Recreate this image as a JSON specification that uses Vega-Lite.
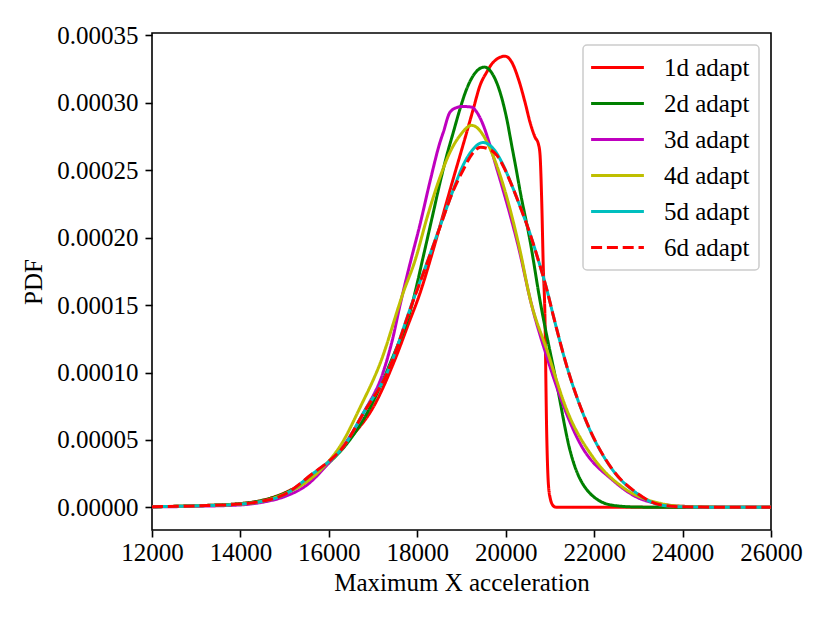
{
  "$schema": "https://vega.github.io/schema/vega-lite/v6.json",
  "width": 619,
  "height": 497,
  "autosize": "none",
  "padding": {"left": 152, "top": 33, "right": 59, "bottom": 93},
  "background": "white",
  "data": {
    "values": [
      {"s": "1d adapt", "x": 12000, "y": 0.0000004},
      {"s": "1d adapt", "x": 13000, "y": 0.0000012},
      {"s": "1d adapt", "x": 14000, "y": 0.0000028},
      {"s": "1d adapt", "x": 14500, "y": 0.0000053},
      {"s": "1d adapt", "x": 15000, "y": 0.0000108},
      {"s": "1d adapt", "x": 15500, "y": 0.0000200},
      {"s": "1d adapt", "x": 16000, "y": 0.0000340},
      {"s": "1d adapt", "x": 16500, "y": 0.0000520},
      {"s": "1d adapt", "x": 17000, "y": 0.0000740},
      {"s": "1d adapt", "x": 17500, "y": 0.0001100},
      {"s": "1d adapt", "x": 17800, "y": 0.0001360},
      {"s": "1d adapt", "x": 18063, "y": 0.0001590},
      {"s": "1d adapt", "x": 18357, "y": 0.0001906},
      {"s": "1d adapt", "x": 18674, "y": 0.0002276},
      {"s": "1d adapt", "x": 18816, "y": 0.0002440},
      {"s": "1d adapt", "x": 18967, "y": 0.0002610},
      {"s": "1d adapt", "x": 19119, "y": 0.0002783},
      {"s": "1d adapt", "x": 19268, "y": 0.0002956},
      {"s": "1d adapt", "x": 19419, "y": 0.0003129},
      {"s": "1d adapt", "x": 19571, "y": 0.0003228},
      {"s": "1d adapt", "x": 19720, "y": 0.0003302},
      {"s": "1d adapt", "x": 19984, "y": 0.0003346},
      {"s": "1d adapt", "x": 20136, "y": 0.0003302},
      {"s": "1d adapt", "x": 20285, "y": 0.0003179},
      {"s": "1d adapt", "x": 20436, "y": 0.0003005},
      {"s": "1d adapt", "x": 20549, "y": 0.0002857},
      {"s": "1d adapt", "x": 20662, "y": 0.0002746},
      {"s": "1d adapt", "x": 20737, "y": 0.0002697},
      {"s": "1d adapt", "x": 20775, "y": 0.0002620},
      {"s": "1d adapt", "x": 20814, "y": 0.0002276},
      {"s": "1d adapt", "x": 20850, "y": 0.0001780},
      {"s": "1d adapt", "x": 20885, "y": 0.0001450},
      {"s": "1d adapt", "x": 20927, "y": 0.0000550},
      {"s": "1d adapt", "x": 20960, "y": 0.0000200},
      {"s": "1d adapt", "x": 21002, "y": 0.0000074},
      {"s": "1d adapt", "x": 21080, "y": 0.0000010},
      {"s": "1d adapt", "x": 21154, "y": 0.0000000},
      {"s": "1d adapt", "x": 22000, "y": 0},
      {"s": "1d adapt", "x": 24000, "y": 0},
      {"s": "1d adapt", "x": 26000, "y": 0},

      {"s": "2d adapt", "x": 12000, "y": 0.0000004},
      {"s": "2d adapt", "x": 13000, "y": 0.0000012},
      {"s": "2d adapt", "x": 14000, "y": 0.0000028},
      {"s": "2d adapt", "x": 14500, "y": 0.0000052},
      {"s": "2d adapt", "x": 15000, "y": 0.0000105},
      {"s": "2d adapt", "x": 15500, "y": 0.0000195},
      {"s": "2d adapt", "x": 16000, "y": 0.0000330},
      {"s": "2d adapt", "x": 16415, "y": 0.0000475},
      {"s": "2d adapt", "x": 16934, "y": 0.0000742},
      {"s": "2d adapt", "x": 17386, "y": 0.0001068},
      {"s": "2d adapt", "x": 17905, "y": 0.0001535},
      {"s": "2d adapt", "x": 18131, "y": 0.0001854},
      {"s": "2d adapt", "x": 18357, "y": 0.0002180},
      {"s": "2d adapt", "x": 18515, "y": 0.0002410},
      {"s": "2d adapt", "x": 18667, "y": 0.0002610},
      {"s": "2d adapt", "x": 18816, "y": 0.0002783},
      {"s": "2d adapt", "x": 18967, "y": 0.0002956},
      {"s": "2d adapt", "x": 19119, "y": 0.0003105},
      {"s": "2d adapt", "x": 19268, "y": 0.0003203},
      {"s": "2d adapt", "x": 19516, "y": 0.0003265},
      {"s": "2d adapt", "x": 19720, "y": 0.0003203},
      {"s": "2d adapt", "x": 19871, "y": 0.0003080},
      {"s": "2d adapt", "x": 20023, "y": 0.0002882},
      {"s": "2d adapt", "x": 20136, "y": 0.0002684},
      {"s": "2d adapt", "x": 20249, "y": 0.0002486},
      {"s": "2d adapt", "x": 20323, "y": 0.0002350},
      {"s": "2d adapt", "x": 20549, "y": 0.0001980},
      {"s": "2d adapt", "x": 20775, "y": 0.0001535},
      {"s": "2d adapt", "x": 21152, "y": 0.0000919},
      {"s": "2d adapt", "x": 21454, "y": 0.0000423},
      {"s": "2d adapt", "x": 21906, "y": 0.0000104},
      {"s": "2d adapt", "x": 22426, "y": 0.0000015},
      {"s": "2d adapt", "x": 23000, "y": 0.0000002},
      {"s": "2d adapt", "x": 24000, "y": 0},
      {"s": "2d adapt", "x": 26000, "y": 0},

      {"s": "3d adapt", "x": 12000, "y": 0.0000003},
      {"s": "3d adapt", "x": 13000, "y": 0.0000008},
      {"s": "3d adapt", "x": 14000, "y": 0.0000018},
      {"s": "3d adapt", "x": 14500, "y": 0.0000038},
      {"s": "3d adapt", "x": 15000, "y": 0.0000080},
      {"s": "3d adapt", "x": 15500, "y": 0.0000165},
      {"s": "3d adapt", "x": 16000, "y": 0.0000330},
      {"s": "3d adapt", "x": 16415, "y": 0.0000497},
      {"s": "3d adapt", "x": 16800, "y": 0.0000710},
      {"s": "3d adapt", "x": 17226, "y": 0.0001000},
      {"s": "3d adapt", "x": 17450, "y": 0.0001260},
      {"s": "3d adapt", "x": 17610, "y": 0.0001500},
      {"s": "3d adapt", "x": 17837, "y": 0.0001809},
      {"s": "3d adapt", "x": 18063, "y": 0.0002100},
      {"s": "3d adapt", "x": 18290, "y": 0.0002420},
      {"s": "3d adapt", "x": 18515, "y": 0.0002709},
      {"s": "3d adapt", "x": 18590, "y": 0.0002783},
      {"s": "3d adapt", "x": 18741, "y": 0.0002931},
      {"s": "3d adapt", "x": 18922, "y": 0.0002968},
      {"s": "3d adapt", "x": 19042, "y": 0.0002973},
      {"s": "3d adapt", "x": 19232, "y": 0.0002968},
      {"s": "3d adapt", "x": 19345, "y": 0.0002931},
      {"s": "3d adapt", "x": 19494, "y": 0.0002833},
      {"s": "3d adapt", "x": 19645, "y": 0.0002684},
      {"s": "3d adapt", "x": 19797, "y": 0.0002514},
      {"s": "3d adapt", "x": 19910, "y": 0.0002388},
      {"s": "3d adapt", "x": 20323, "y": 0.0001883},
      {"s": "3d adapt", "x": 20549, "y": 0.0001550},
      {"s": "3d adapt", "x": 20934, "y": 0.0001112},
      {"s": "3d adapt", "x": 21680, "y": 0.0000475},
      {"s": "3d adapt", "x": 22426, "y": 0.0000200},
      {"s": "3d adapt", "x": 23000, "y": 0.0000070},
      {"s": "3d adapt", "x": 23500, "y": 0.0000025},
      {"s": "3d adapt", "x": 24000, "y": 0.0000008},
      {"s": "3d adapt", "x": 25000, "y": 0.0000001},
      {"s": "3d adapt", "x": 26000, "y": 0},

      {"s": "4d adapt", "x": 12000, "y": 0.0000004},
      {"s": "4d adapt", "x": 13000, "y": 0.0000011},
      {"s": "4d adapt", "x": 14000, "y": 0.0000024},
      {"s": "4d adapt", "x": 14500, "y": 0.0000046},
      {"s": "4d adapt", "x": 15000, "y": 0.0000100},
      {"s": "4d adapt", "x": 15500, "y": 0.0000190},
      {"s": "4d adapt", "x": 15803, "y": 0.0000274},
      {"s": "4d adapt", "x": 16294, "y": 0.0000475},
      {"s": "4d adapt", "x": 16708, "y": 0.0000742},
      {"s": "4d adapt", "x": 17160, "y": 0.0001068},
      {"s": "4d adapt", "x": 17690, "y": 0.0001600},
      {"s": "4d adapt", "x": 17951, "y": 0.0001832},
      {"s": "4d adapt", "x": 18222, "y": 0.0002150},
      {"s": "4d adapt", "x": 18515, "y": 0.0002450},
      {"s": "4d adapt", "x": 18741, "y": 0.0002635},
      {"s": "4d adapt", "x": 18967, "y": 0.0002758},
      {"s": "4d adapt", "x": 19232, "y": 0.0002833},
      {"s": "4d adapt", "x": 19494, "y": 0.0002758},
      {"s": "4d adapt", "x": 19645, "y": 0.0002660},
      {"s": "4d adapt", "x": 19797, "y": 0.0002536},
      {"s": "4d adapt", "x": 19946, "y": 0.0002388},
      {"s": "4d adapt", "x": 20323, "y": 0.0001906},
      {"s": "4d adapt", "x": 20549, "y": 0.0001550},
      {"s": "4d adapt", "x": 20934, "y": 0.0001164},
      {"s": "4d adapt", "x": 21386, "y": 0.0000719},
      {"s": "4d adapt", "x": 21974, "y": 0.0000371},
      {"s": "4d adapt", "x": 22652, "y": 0.0000148},
      {"s": "4d adapt", "x": 23488, "y": 0.0000030},
      {"s": "4d adapt", "x": 24000, "y": 0.0000008},
      {"s": "4d adapt", "x": 25000, "y": 0.0000001},
      {"s": "4d adapt", "x": 26000, "y": 0},

      {"s": "5d adapt", "x": 12000, "y": 0.0000004},
      {"s": "5d adapt", "x": 13000, "y": 0.0000011},
      {"s": "5d adapt", "x": 14000, "y": 0.0000024},
      {"s": "5d adapt", "x": 14500, "y": 0.0000045},
      {"s": "5d adapt", "x": 15000, "y": 0.0000095},
      {"s": "5d adapt", "x": 15645, "y": 0.0000252},
      {"s": "5d adapt", "x": 16000, "y": 0.0000340},
      {"s": "5d adapt", "x": 16323, "y": 0.0000445},
      {"s": "5d adapt", "x": 16775, "y": 0.0000697},
      {"s": "5d adapt", "x": 17318, "y": 0.0001000},
      {"s": "5d adapt", "x": 17905, "y": 0.0001535},
      {"s": "5d adapt", "x": 18222, "y": 0.0001817},
      {"s": "5d adapt", "x": 18515, "y": 0.0002084},
      {"s": "5d adapt", "x": 18809, "y": 0.0002351},
      {"s": "5d adapt", "x": 19035, "y": 0.0002536},
      {"s": "5d adapt", "x": 19239, "y": 0.0002647},
      {"s": "5d adapt", "x": 19487, "y": 0.0002706},
      {"s": "5d adapt", "x": 19720, "y": 0.0002660},
      {"s": "5d adapt", "x": 19946, "y": 0.0002536},
      {"s": "5d adapt", "x": 20136, "y": 0.0002390},
      {"s": "5d adapt", "x": 20350, "y": 0.0002210},
      {"s": "5d adapt", "x": 20549, "y": 0.0002030},
      {"s": "5d adapt", "x": 20750, "y": 0.0001820},
      {"s": "5d adapt", "x": 20934, "y": 0.0001610},
      {"s": "5d adapt", "x": 21070, "y": 0.0001430},
      {"s": "5d adapt", "x": 21387, "y": 0.0001040},
      {"s": "5d adapt", "x": 21839, "y": 0.0000623},
      {"s": "5d adapt", "x": 22426, "y": 0.0000274},
      {"s": "5d adapt", "x": 22968, "y": 0.0000104},
      {"s": "5d adapt", "x": 23488, "y": 0.0000018},
      {"s": "5d adapt", "x": 24000, "y": 0.0000004},
      {"s": "5d adapt", "x": 25000, "y": 0},
      {"s": "5d adapt", "x": 26000, "y": 0},

      {"s": "6d adapt", "x": 12000, "y": 0.0000004},
      {"s": "6d adapt", "x": 13000, "y": 0.0000011},
      {"s": "6d adapt", "x": 14000, "y": 0.0000024},
      {"s": "6d adapt", "x": 14500, "y": 0.0000046},
      {"s": "6d adapt", "x": 15000, "y": 0.0000096},
      {"s": "6d adapt", "x": 15645, "y": 0.0000254},
      {"s": "6d adapt", "x": 16000, "y": 0.0000342},
      {"s": "6d adapt", "x": 16323, "y": 0.0000446},
      {"s": "6d adapt", "x": 16775, "y": 0.0000695},
      {"s": "6d adapt", "x": 17318, "y": 0.0000995},
      {"s": "6d adapt", "x": 17905, "y": 0.0001530},
      {"s": "6d adapt", "x": 18222, "y": 0.0001812},
      {"s": "6d adapt", "x": 18515, "y": 0.0002080},
      {"s": "6d adapt", "x": 18809, "y": 0.0002345},
      {"s": "6d adapt", "x": 19035, "y": 0.0002500},
      {"s": "6d adapt", "x": 19239, "y": 0.0002620},
      {"s": "6d adapt", "x": 19430, "y": 0.0002670},
      {"s": "6d adapt", "x": 19600, "y": 0.0002660},
      {"s": "6d adapt", "x": 19800, "y": 0.0002610},
      {"s": "6d adapt", "x": 19946, "y": 0.0002530},
      {"s": "6d adapt", "x": 20136, "y": 0.0002390},
      {"s": "6d adapt", "x": 20350, "y": 0.0002210},
      {"s": "6d adapt", "x": 20549, "y": 0.0002030},
      {"s": "6d adapt", "x": 20750, "y": 0.0001820},
      {"s": "6d adapt", "x": 20934, "y": 0.0001610},
      {"s": "6d adapt", "x": 21070, "y": 0.0001430},
      {"s": "6d adapt", "x": 21387, "y": 0.0001040},
      {"s": "6d adapt", "x": 21839, "y": 0.0000625},
      {"s": "6d adapt", "x": 22426, "y": 0.0000276},
      {"s": "6d adapt", "x": 22968, "y": 0.0000106},
      {"s": "6d adapt", "x": 23488, "y": 0.0000019},
      {"s": "6d adapt", "x": 24000, "y": 0.0000004},
      {"s": "6d adapt", "x": 25000, "y": 0},
      {"s": "6d adapt", "x": 26000, "y": 0}
    ]
  },
  "mark": {"type": "line", "strokeWidth": 3, "interpolate": "monotone", "clip": true},
  "encoding": {
    "x": {
      "field": "x",
      "type": "quantitative",
      "scale": {"domain": [12000, 26000], "nice": false, "zero": false},
      "axis": {
        "values": [12000, 14000, 16000, 18000, 20000, 22000, 24000, 26000],
        "format": "d",
        "labelPadding": 3,
        "labelFlush": false,
        "labelOverlap": false,
        "title": "Maximum X acceleration",
        "titlePadding": 5
      }
    },
    "y": {
      "field": "y",
      "type": "quantitative",
      "scale": {"domain": [-0.0000168, 0.0003518], "nice": false, "zero": false},
      "axis": {
        "values": [0, 0.00005, 0.0001, 0.00015, 0.0002, 0.00025, 0.0003, 0.00035],
        "format": ".5f",
        "labelPadding": 7,
        "labelFlush": false,
        "labelOverlap": false,
        "title": "PDF",
        "titlePadding": 10
      }
    },
    "color": {
      "field": "s",
      "type": "nominal",
      "scale": {
        "domain": ["1d adapt", "2d adapt", "3d adapt", "4d adapt", "5d adapt", "6d adapt"],
        "range": ["#ff0000", "#008000", "#bf00bf", "#bfbf00", "#00bfbf", "#ff0000"]
      },
      "legend": {"title": null}
    },
    "strokeDash": {
      "field": "s",
      "type": "nominal",
      "scale": {
        "domain": ["1d adapt", "2d adapt", "3d adapt", "4d adapt", "5d adapt", "6d adapt"],
        "range": [[1, 0], [1, 0], [1, 0], [1, 0], [1, 0], [11, 4.8]]
      },
      "legend": {"title": null}
    }
  },
  "config": {
    "view": {"stroke": "black", "strokeWidth": 1.6},
    "axis": {
      "domain": false,
      "grid": false,
      "ticks": true,
      "tickColor": "black",
      "tickWidth": 1.6,
      "tickSize": 7,
      "labelFont": "Liberation Serif",
      "labelFontSize": 25,
      "labelColor": "black",
      "titleFont": "Liberation Serif",
      "titleFontSize": 25,
      "titleFontWeight": "normal",
      "titleColor": "black"
    },
    "legend": {
      "orient": "top-right",
      "offset": 12,
      "padding": 9,
      "rowPadding": 9,
      "strokeColor": "#cccccc",
      "strokeWidth": 1.5,
      "fillColor": "rgba(255,255,255,0.8)",
      "cornerRadius": 4,
      "labelFont": "Liberation Serif",
      "labelFontSize": 25,
      "labelColor": "black",
      "labelOffset": 45,
      "symbolType": "M-1.2,0H3.2",
      "symbolSize": 576,
      "symbolStrokeWidth": 3
    }
  }
}
